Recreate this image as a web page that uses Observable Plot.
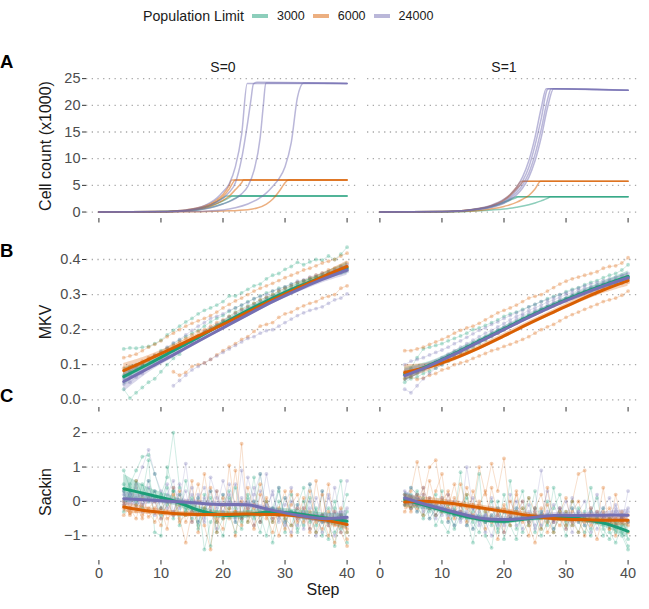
<!DOCTYPE html>
<html><head><meta charset="utf-8">
<script src="https://cdn.jsdelivr.net/npm/d3@7"></script>
<script src="https://cdn.jsdelivr.net/npm/@observablehq/plot@0.6"></script>
<style>
body{margin:0;background:#fff;}
#chart{position:relative;width:649px;height:609px;overflow:hidden;font-family:'Liberation Sans',Arial,Helvetica,sans-serif;color:#1a1a1a;}
.abs{position:absolute;white-space:nowrap;}
</style>
</head><body><div id="chart"></div>
<script>
// ---------- categories / ticks ----------
const LIMITS = [3000, 6000, 24000];
const COLORS = ["#1b9e77", "#d95f02", "#7570b3"];
const S_VALUES = [0, 1];
const X_TICKS = [0, 10, 20, 30, 40];
const Y_TICKS_A = [0, 5, 10, 15, 20, 25];
const Y_TICKS_B = [0, 0.1, 0.2, 0.3, 0.4];
const Y_TICKS_C = [-1, 0, 1, 2];
const SERIES_START = 4;
const SMOOTH_STEPS = [4, 8, 12, 16, 20, 24, 28, 32, 36, 40];

// ---------- Panel A: cell count (x1000), runs as [step, count] ----------
const A_S0_3000 = [
 [[0,0],[5,0.02],[10,0.1],[14,0.3],[16,0.65],[18,1.35],[19,1.95],[20,2.65],[20.6,3.0],[30,3.02],[40,3.0]],
 [[0,0],[10,0.08],[14,0.25],[16,0.55],[18,1.15],[20,2.1],[21,2.7],[21.5,3.0],[40,3.0]],
 [[0,0],[10,0.05],[14,0.18],[16,0.4],[18,0.85],[20,1.55],[21,2.0],[22,2.6],[22.8,3.0],[40,3.0]]
];
const A_S0_6000 = [
 [[0,0],[10,0.1],[14,0.4],[16,0.8],[18,1.6],[19,2.3],[20,3.3],[21,5.0],[21.4,6.0],[40,6.0]],
 [[0,0],[10,0.08],[14,0.3],[16,0.7],[18,1.4],[19,2.0],[20,2.9],[21,4.3],[22,6.0],[40,6.02]],
 [[0,0],[10,0.06],[14,0.25],[16,0.5],[18,1.1],[20,2.2],[21,3.0],[22,4.2],[23,5.5],[23.3,6.0],[40,6.0]],
 [[0,0],[15,0.05],[20,0.2],[24,0.45],[25.5,0.75],[27,1.5],[28,2.4],[29,3.8],[29.7,5.0],[30,5.5],[30.6,6.0],[40,6.0]]
];
const A_S0_24000 = [
 [[0,0],[10,0.1],[14,0.4],[16,0.8],[17,1.2],[18,1.8],[19,2.6],[20,3.8],[21,5.3],[22,8.5],[23,14.5],[23.9,24.1],[40,24.1]],
 [[0,0],[10,0.08],[14,0.3],[16,0.6],[18,1.3],[20,2.6],[21,3.7],[22,5.5],[23,10],[24,17],[24.5,21],[24.9,24.0],[25.5,24.3],[40,24.1]],
 [[0,0],[10,0.05],[15,0.3],[18,0.8],[20,1.5],[22,2.5],[23,3.4],[24,4.8],[25,7.8],[26,14],[26.5,20],[26.9,24.2],[40,24.1]],
 [[0,0],[15,0.1],[20,0.4],[22,0.8],[24,1.5],[26,2.7],[27,3.6],[28,4.8],[29,6.2],[30,8.5],[31,13],[32,21.5],[33,24.2],[40,24.1]]
];
const A_S1_3000 = [
 [[0,0],[10,0.08],[14,0.3],[16,0.6],[18,1.1],[20,1.9],[21,2.4],[22,2.88],[40,2.88]],
 [[0,0],[10,0.07],[14,0.28],[16,0.55],[18,1.0],[20,1.75],[21,2.25],[22,2.7],[22.3,2.88],[40,2.88]],
 [[0,0],[10,0.04],[14,0.12],[16,0.22],[18,0.38],[20,0.58],[22,0.9],[24,1.35],[25,1.7],[26,2.1],[27,2.55],[27.5,2.88],[40,2.88]]
];
const A_S1_6000 = [
 [[0,0],[10,0.1],[14,0.35],[16,0.65],[18,1.25],[20,2.35],[21,3.3],[22,4.6],[22.8,5.75],[40,5.75]],
 [[0,0],[10,0.09],[14,0.32],[16,0.6],[18,1.15],[20,2.2],[21,3.1],[22,4.3],[23,5.6],[23.1,5.75],[40,5.75]],
 [[0,0],[10,0.05],[14,0.15],[16,0.3],[18,0.6],[20,1.05],[20.5,1.2],[22,1.8],[23,2.4],[24,3.1],[25,4.3],[25.9,5.75],[40,5.75]]
];
const A_S1_24000 = [
 [[0,0],[10,0.1],[14,0.35],[16,0.7],[18,1.3],[20,2.4],[21,3.3],[22,4.6],[23,6.6],[24,9.6],[25,14],[26,19.5],[26.8,23.1],[30,23.1],[35,23.0],[40,22.8]],
 [[0,0],[10,0.09],[14,0.32],[16,0.62],[18,1.15],[20,2.1],[21,2.9],[22,4.1],[23,5.8],[24,8.4],[25,12.5],[26,17.5],[27,23.0],[27.2,23.1],[33,23.0],[40,22.8]],
 [[0,0],[10,0.08],[14,0.28],[16,0.55],[18,1.0],[20,1.85],[21,2.6],[22,3.6],[23,5.1],[24,7.3],[25,10.8],[26,15.5],[27,21],[27.6,23.1],[34,23.0],[40,22.8]],
 [[0,0],[10,0.07],[14,0.25],[16,0.5],[18,0.9],[20,1.65],[21,2.3],[22,3.2],[23,4.5],[24,6.5],[25,9.6],[26,14],[27,19.5],[28,23.1],[36,22.9],[40,22.8]]
];

// ---------- Panel B: MKV replicate runs (steps 4..40, null = not yet defined) ----------
const B_S0_3000 = [
 [0.145,0.148,0.147,0.15,0.152,0.16,0.17,0.185,0.198,0.21,0.222,0.232,0.245,0.255,0.262,0.27,0.28,0.296,0.296,0.305,0.315,0.325,0.33,0.345,0.355,0.36,0.372,0.38,0.392,0.385,0.393,0.4,0.398,0.41,0.4,0.415,0.435],
 [0.03,0.005,0.02,0.035,0.05,0.06,0.08,0.1,0.118,0.13,0.15,0.162,0.175,0.19,0.2,0.212,0.225,0.238,0.25,0.26,0.268,0.275,0.285,0.292,0.3,0.31,0.318,0.325,0.33,0.338,0.345,0.35,0.355,0.36,0.362,0.37,0.375],
 [0.07,0.08,0.095,0.1,0.115,0.125,0.14,0.148,0.16,0.17,0.18,0.19,0.198,0.21,0.222,0.232,0.24,0.252,0.262,0.27,0.28,0.288,0.296,0.305,0.31,0.318,0.322,0.33,0.335,0.34,0.345,0.35,0.352,0.358,0.36,0.365,0.37]
];
const B_S0_6000 = [
 [0.12,0.125,0.13,0.14,0.15,0.158,0.168,0.18,0.19,0.2,0.21,0.218,0.225,0.232,0.24,0.25,0.262,0.272,0.282,0.29,0.3,0.31,0.318,0.325,0.332,0.34,0.348,0.355,0.362,0.37,0.375,0.382,0.39,0.395,0.4,0.41,0.418],
 [null,null,null,null,null,null,null,null,0.08,0.07,0.078,0.095,0.1,0.105,0.115,0.128,0.14,0.15,0.16,0.172,0.18,0.195,0.21,0.215,0.22,0.235,0.245,0.25,0.26,0.268,0.275,0.28,0.29,0.295,0.3,0.318,0.325],
 [0.09,0.095,0.1,0.11,0.12,0.128,0.135,0.145,0.155,0.165,0.175,0.185,0.195,0.2,0.21,0.22,0.228,0.238,0.248,0.258,0.265,0.275,0.285,0.292,0.3,0.31,0.318,0.325,0.335,0.34,0.348,0.355,0.362,0.37,0.375,0.382,0.39]
];
const B_S0_24000 = [
 [0.06,0.07,0.085,0.1,0.112,0.125,0.135,0.15,0.162,0.172,0.185,0.198,0.21,0.22,0.232,0.238,0.245,0.255,0.262,0.27,0.278,0.288,0.295,0.3,0.31,0.315,0.322,0.33,0.338,0.342,0.35,0.355,0.36,0.365,0.37,0.378,0.385],
 [null,null,null,null,null,null,null,null,0.04,0.055,0.07,0.085,0.095,0.105,0.115,0.125,0.135,0.145,0.155,0.165,0.175,0.18,0.19,0.197,0.2,0.21,0.22,0.23,0.24,0.248,0.255,0.26,0.265,0.275,0.285,0.29,0.302],
 [0.045,0.05,0.065,0.075,0.09,0.1,0.115,0.125,0.14,0.15,0.16,0.172,0.182,0.195,0.205,0.215,0.225,0.235,0.245,0.255,0.262,0.27,0.28,0.288,0.295,0.302,0.31,0.318,0.325,0.33,0.338,0.342,0.348,0.352,0.358,0.362,0.366]
];
const B_S1_3000 = [
 [0.075,0.09,0.12,0.145,0.15,0.155,0.16,0.168,0.175,0.182,0.19,0.2,0.205,0.212,0.22,0.228,0.238,0.245,0.25,0.258,0.265,0.272,0.28,0.288,0.295,0.3,0.308,0.315,0.32,0.328,0.335,0.34,0.348,0.355,0.36,0.37,0.385],
 [0.06,0.065,0.075,0.085,0.095,0.105,0.115,0.125,0.135,0.142,0.152,0.162,0.17,0.178,0.188,0.198,0.205,0.215,0.222,0.232,0.24,0.248,0.258,0.265,0.272,0.28,0.288,0.295,0.302,0.308,0.315,0.322,0.328,0.335,0.34,0.345,0.35],
 [0.05,0.06,0.065,0.075,0.082,0.09,0.1,0.11,0.12,0.13,0.14,0.15,0.16,0.17,0.18,0.19,0.2,0.21,0.22,0.23,0.24,0.25,0.258,0.265,0.272,0.28,0.288,0.295,0.3,0.308,0.315,0.32,0.325,0.33,0.335,0.34,0.345]
];
const B_S1_6000 = [
 [0.14,0.14,0.145,0.15,0.158,0.165,0.172,0.18,0.19,0.198,0.205,0.21,0.218,0.228,0.238,0.248,0.255,0.262,0.27,0.28,0.29,0.295,0.3,0.31,0.32,0.33,0.338,0.345,0.35,0.355,0.36,0.365,0.375,0.38,0.382,0.39,0.405],
 [0.06,0.065,0.058,0.062,0.07,0.075,0.085,0.09,0.1,0.105,0.11,0.118,0.125,0.132,0.14,0.145,0.152,0.158,0.165,0.172,0.18,0.19,0.2,0.208,0.215,0.225,0.235,0.243,0.25,0.258,0.265,0.272,0.28,0.285,0.29,0.298,0.31],
 [0.08,0.075,0.08,0.088,0.095,0.1,0.108,0.118,0.128,0.135,0.145,0.155,0.165,0.172,0.182,0.19,0.2,0.21,0.218,0.228,0.235,0.245,0.252,0.26,0.268,0.275,0.282,0.29,0.298,0.305,0.31,0.315,0.32,0.325,0.33,0.332,0.335]
];
const B_S1_24000 = [
 [0.03,0.02,0.04,0.06,0.075,0.09,0.1,0.112,0.125,0.138,0.15,0.16,0.17,0.18,0.192,0.2,0.21,0.22,0.23,0.24,0.248,0.255,0.262,0.27,0.278,0.285,0.29,0.298,0.305,0.31,0.318,0.322,0.328,0.332,0.336,0.34,0.345],
 [0.1,0.11,0.115,0.12,0.128,0.135,0.142,0.15,0.16,0.168,0.178,0.188,0.198,0.205,0.215,0.222,0.232,0.24,0.248,0.255,0.265,0.272,0.28,0.285,0.292,0.3,0.305,0.312,0.318,0.325,0.33,0.335,0.34,0.345,0.35,0.355,0.36],
 [0.07,0.075,0.085,0.092,0.1,0.11,0.12,0.13,0.14,0.15,0.16,0.17,0.18,0.19,0.198,0.208,0.218,0.228,0.238,0.245,0.255,0.262,0.27,0.278,0.285,0.292,0.3,0.305,0.312,0.318,0.322,0.328,0.333,0.338,0.342,0.346,0.35]
];
// smooth fits (at SMOOTH_STEPS) and half-widths of their bands
const B_S0_FIT_3000 = [0.066,0.102,0.14,0.178,0.217,0.255,0.29,0.322,0.35,0.376];
const B_S0_FIT_6000 = [0.083,0.115,0.148,0.182,0.215,0.25,0.285,0.318,0.35,0.38];
const B_S0_FIT_24000 = [0.052,0.09,0.128,0.167,0.205,0.243,0.28,0.313,0.343,0.37];
const B_S1_FIT_3000 = [0.072,0.099,0.132,0.167,0.202,0.237,0.27,0.3,0.327,0.352];
const B_S1_FIT_6000 = [0.078,0.094,0.118,0.148,0.182,0.217,0.25,0.283,0.313,0.34];
const B_S1_FIT_24000 = [0.069,0.097,0.13,0.165,0.2,0.235,0.268,0.297,0.324,0.348];
const B_S0_SE_3000 = [0.025,0.012,0.008,0.007,0.007,0.007,0.007,0.008,0.01,0.017];
const B_S0_SE_6000 = [0.02,0.011,0.008,0.007,0.007,0.007,0.007,0.008,0.01,0.016];
const B_S0_SE_24000 = [0.03,0.013,0.009,0.007,0.007,0.007,0.007,0.008,0.01,0.015];
const B_S1_SE_3000 = [0.02,0.01,0.008,0.007,0.007,0.007,0.007,0.008,0.01,0.015];
const B_S1_SE_6000 = [0.022,0.011,0.008,0.007,0.007,0.007,0.007,0.008,0.01,0.016];
const B_S1_SE_24000 = [0.018,0.01,0.008,0.007,0.007,0.007,0.007,0.008,0.01,0.014];

// ---------- Panel C: Sackin replicate runs (steps 4..40) ----------
const C_S0_3000 = [
 [0.3,0.5,0.9,1.3,1.35,0.8,0.2,0.7,2.0,0.4,-0.3,0.1,-0.6,-0.2,0.3,-0.9,-0.5,0.1,-0.2,-0.6,0.2,-0.4,-0.9,0.0,-0.3,0.3,-0.5,-0.7,-0.1,0.4,-0.6,-0.2,-1.0,-0.5,0.0,-0.8,-0.3],
 [0.5,0.1,0.6,0.2,1.2,-0.9,-1.0,1.0,0.3,-0.4,0.6,-0.2,-0.7,0.2,-1.3,-0.4,-0.1,0.3,-0.6,-0.8,0.1,-0.5,0.8,-0.3,-0.6,0.0,-0.9,0.2,-0.4,-0.7,0.5,-0.3,-0.6,-1.1,-0.2,0.6,-0.9],
 [-0.3,0.3,-0.1,0.5,0.0,0.3,-0.2,0.4,-0.5,0.2,-0.4,0.0,-0.8,-0.3,0.1,-0.6,-1.0,-0.2,0.4,-0.5,-0.3,0.7,-0.6,-0.2,-1.2,-0.4,0.1,-0.3,-0.8,0.0,-0.5,-0.9,0.3,-0.6,-1.3,-0.4,0.2],
 [0.9,0.4,0.0,-0.2,0.6,0.1,-0.4,-0.1,0.3,-0.7,-0.2,-0.5,0.1,-1.4,-0.6,-0.3,0.2,-0.4,-0.9,-0.1,-0.6,0.0,-0.4,-1.0,-0.2,0.4,-0.6,-0.3,-0.9,-0.5,0.1,-0.7,-0.4,-0.2,-0.9,-0.6,-1.2]
];
const C_S0_6000 = [
 [-0.1,-0.3,0.6,-0.4,-0.2,0.0,-0.5,-0.3,0.2,-0.6,-0.4,0.6,-0.9,-0.2,0.4,-0.5,-0.8,1.05,-0.3,1.68,-0.6,-0.1,0.5,-0.4,-0.9,-0.2,0.3,-0.7,-0.5,0.1,-0.8,0.6,-0.4,-1.0,-0.3,-0.6,-1.1],
 [-0.4,-0.2,-0.5,0.1,-0.3,-0.6,-0.2,-0.8,0.4,-0.5,-1.2,-0.3,0.0,-0.7,-1.4,0.3,-0.5,-0.2,-1.0,0.0,-0.4,-0.8,0.2,-0.5,-0.3,-1.0,-0.4,0.3,-0.6,-0.2,-0.9,-0.5,0.2,-0.7,-1.2,-0.4,-0.8],
 [0.0,-0.4,-0.1,-0.5,0.2,-0.3,-0.7,0.0,-0.4,0.3,-0.6,-0.2,0.5,-0.4,-0.1,-0.9,0.1,-0.5,-0.3,-0.7,0.4,-0.2,-0.6,0.0,-0.5,-0.4,-0.8,-0.1,0.2,-0.6,-0.3,-0.9,-0.5,0.5,-0.7,-0.2,-0.9],
 [-0.2,-0.35,-0.3,-0.1,-0.45,-0.2,0.1,-0.5,-0.35,-0.1,0.0,-0.6,-0.4,0.8,-0.3,-0.6,-0.1,-0.4,0.9,-0.5,-0.2,-0.7,-0.4,0.1,-0.6,-0.3,-0.5,-1.0,-0.2,-0.4,0.3,-0.6,-0.8,-0.3,-0.5,-0.9,-1.3]
];
const C_S0_24000 = [
 [0.2,0.0,0.5,1.0,1.5,0.8,0.3,-0.2,0.4,0.0,1.1,-0.3,0.2,-0.5,0.3,-0.2,0.6,0.0,-0.6,0.9,-0.4,0.2,0.8,-0.3,0.3,-0.5,-0.1,0.4,-0.7,-0.2,0.5,-0.4,-0.9,0.2,-0.6,-0.3,0.6],
 [-0.1,0.3,-0.2,0.2,0.6,-0.4,0.1,0.5,-0.3,0.2,-0.1,0.4,-0.6,0.1,-0.2,0.3,-0.4,0.5,-0.1,-0.5,0.7,0.0,-0.3,0.8,-0.2,-0.6,0.1,-0.4,-0.2,-0.8,0.0,-0.5,0.3,-0.7,-1.0,-0.4,-0.2],
 [0.3,-0.2,0.1,-0.3,0.4,0.0,-0.5,0.2,0.6,-0.2,0.3,-0.6,0.1,0.4,-0.3,-0.8,0.2,-0.1,0.5,-0.4,0.0,-0.7,0.3,-0.2,-0.5,0.4,-0.6,-0.9,-0.1,-0.4,-0.2,-1.0,-0.6,0.1,-0.3,-0.9,-0.5],
 [0.0,0.2,0.4,-0.1,0.1,0.3,-0.2,0.0,-0.4,0.5,-0.1,0.2,-0.3,-0.6,0.7,0.1,-0.3,0.2,-0.5,0.1,-0.2,0.4,-0.6,-0.1,0.2,-0.4,-0.7,0.0,-0.5,-0.3,-0.8,0.1,-0.4,-0.6,0.4,-0.5,-0.7]
];
const C_S1_3000 = [
 [0.2,0.0,-0.3,0.1,-0.5,-0.2,0.3,-0.6,-0.4,0.85,-0.7,-0.3,0.8,-1.0,-1.35,-0.2,-0.6,0.6,-0.8,-0.4,0.1,-0.9,-0.3,-0.7,0.4,-0.5,-1.0,-0.2,-0.6,-0.9,-0.3,0.1,-0.8,-1.1,-0.6,-0.9,-1.3],
 [-0.1,0.4,0.2,-0.4,0.0,-0.7,-0.3,-0.1,-0.8,-0.4,0.2,-0.6,-0.9,-0.3,-0.7,0.0,-1.1,-0.5,-0.2,0.3,-0.7,-0.4,-1.0,-0.6,-0.2,0.2,-0.7,-0.5,-0.9,-0.3,0.4,-0.6,-1.0,-0.5,-0.8,-0.4,-1.1],
 [0.1,-0.2,0.3,0.0,-0.3,0.2,-0.6,-0.9,-0.2,-0.5,0.1,-0.8,-0.4,-0.6,0.0,-0.9,-0.3,-0.7,-1.1,-0.2,-0.5,0.3,-0.8,-0.4,-0.9,-0.3,-0.6,0.0,-0.4,-0.7,-1.0,-0.5,-0.2,-0.9,-1.2,-0.7,-0.6],
 [0.0,0.2,-0.1,-0.5,-0.2,-0.4,0.0,-0.3,-0.7,-0.1,-0.5,-1.2,-0.2,-0.6,-0.4,-0.8,0.2,-0.5,-0.3,-0.9,-0.6,-0.2,-0.4,0.0,-0.8,-0.5,-0.3,-0.7,-0.2,-0.5,-0.8,-0.4,-0.7,-0.5,-0.9,-1.0,-1.4]
];
const C_S1_6000 = [
 [-0.1,0.3,1.15,0.2,1.0,1.2,0.1,-0.2,0.5,-0.3,0.4,-0.1,1.0,0.2,1.1,0.3,1.25,-0.4,0.2,-0.6,0.1,-0.3,-0.8,0.4,-0.5,-0.2,-0.7,0.0,0.8,0.9,-0.4,-0.6,-0.3,-0.8,0.2,-0.6,-0.9],
 [0.2,-0.3,0.0,0.4,-0.2,0.3,0.8,-0.5,0.1,-0.1,-0.6,0.3,-0.2,-0.8,0.4,-0.4,-0.1,-0.7,0.3,-0.5,-1.0,-0.2,0.2,-0.6,-0.9,-0.3,0.1,-0.7,-0.5,-1.0,-0.2,-0.6,0.4,-0.8,-0.5,-0.3,-0.7],
 [-0.3,0.1,-0.2,-0.4,0.6,-0.1,-0.3,0.2,-0.5,0.5,-0.2,-0.4,-0.1,0.3,-0.6,-0.3,-0.9,0.0,-0.4,-0.2,-0.7,-1.2,-0.5,-0.1,-0.6,-0.4,-0.8,-0.3,0.0,-0.6,-0.5,-1.1,-0.4,-0.2,-0.7,-0.5,-0.4],
 [0.0,-0.2,0.2,-0.1,0.1,-0.4,0.0,0.3,-0.3,-0.1,0.2,-0.5,0.0,-0.3,-0.5,-1.1,-0.2,-0.5,-0.3,0.0,-0.6,-0.4,-0.2,-0.9,-0.5,-0.7,-0.3,-0.6,-0.9,-0.4,-0.7,-0.3,-0.6,-0.5,-1.0,-0.4,-0.6]
];
const C_S1_24000 = [
 [0.3,0.1,-0.1,0.4,-0.2,0.0,-0.4,0.2,-0.3,-0.5,1.0,-0.2,-0.6,-0.4,0.1,-0.7,-0.3,-0.5,0.0,-0.8,-0.4,-0.2,0.9,-0.3,-0.6,-0.2,-0.5,0.1,-0.4,-0.7,-0.3,0.2,-0.5,-0.4,-0.1,-0.6,0.3],
 [0.1,0.4,0.2,-0.2,0.1,-0.4,-0.1,-0.6,0.0,-0.3,-0.7,-0.2,-0.5,-0.9,-0.4,-0.2,-0.6,0.2,-0.7,-0.5,-0.3,-0.8,-0.4,0.3,-0.6,-0.2,-0.4,-0.9,-0.3,0.0,-0.6,-0.5,-0.2,0.1,-0.7,-0.4,-0.3],
 [-0.1,0.0,-0.3,0.2,-0.5,-0.2,0.1,-0.4,-0.7,-0.1,-0.4,-0.8,-0.3,-0.6,-1.0,-0.4,-0.7,-0.3,-0.5,0.0,-0.6,-0.3,-0.7,-0.4,-0.1,-0.5,-0.8,-0.2,-0.6,-0.4,-0.9,-0.3,-0.5,-0.7,-0.2,-0.5,-0.6],
 [0.2,-0.2,0.1,-0.3,-0.1,-0.5,-0.2,0.0,-0.4,-0.6,-0.3,0.1,-0.7,-0.4,-0.2,-0.6,-0.9,-0.4,-0.2,-0.5,-0.1,-0.7,-0.3,-0.5,-0.8,-0.4,0.0,-0.6,-0.3,-0.5,-0.2,-0.8,-0.4,-0.6,-0.3,-0.5,-0.2]
];
const C_S0_FIT_3000 = [0.37,0.2,0.02,-0.25,-0.4,-0.38,-0.3,-0.36,-0.47,-0.58];
const C_S0_FIT_6000 = [-0.16,-0.28,-0.35,-0.38,-0.38,-0.37,-0.38,-0.42,-0.53,-0.67];
const C_S0_FIT_24000 = [0.08,0.04,0.0,-0.05,-0.09,-0.1,-0.26,-0.4,-0.5,-0.46];
const C_S1_FIT_3000 = [0.05,-0.15,-0.36,-0.52,-0.58,-0.5,-0.46,-0.5,-0.63,-0.87];
const C_S1_FIT_6000 = [-0.02,0.0,-0.07,-0.18,-0.29,-0.41,-0.5,-0.53,-0.55,-0.55];
const C_S1_FIT_24000 = [0.1,-0.12,-0.31,-0.48,-0.53,-0.48,-0.41,-0.41,-0.4,-0.4];
const C_S0_SE_3000 = [0.42,0.2,0.13,0.11,0.11,0.11,0.11,0.12,0.14,0.22];
const C_S0_SE_6000 = [0.15,0.1,0.08,0.07,0.07,0.07,0.07,0.08,0.1,0.16];
const C_S0_SE_24000 = [0.2,0.12,0.09,0.08,0.08,0.08,0.08,0.09,0.12,0.2];
const C_S1_SE_3000 = [0.22,0.11,0.09,0.08,0.08,0.08,0.08,0.09,0.11,0.2];
const C_S1_SE_6000 = [0.22,0.11,0.09,0.08,0.08,0.08,0.08,0.09,0.11,0.18];
const C_S1_SE_24000 = [0.2,0.1,0.08,0.08,0.08,0.08,0.08,0.08,0.1,0.17];

// ---------- build tidy tables ----------
function growthRows(S, limit, runs) {
  return runs.flatMap((run, i) => run.map(([step, count]) => ({S, limit, run: `${S}-${limit}-${i}`, step, count})));
}
function seriesRows(S, limit, runs) {
  return runs.flatMap((run, i) => run.map((v, j) => ({S, limit, run: `${S}-${limit}-${i}`, step: SERIES_START + j, value: v})).filter(d => d.value != null));
}
function fitRows(S, limit, fit, se) {
  return fit.map((f, j) => ({S, limit, step: SMOOTH_STEPS[j], fit: f, lo: f - se[j], hi: f + se[j]}));
}
const dataA = [
  ...growthRows(0, 3000, A_S0_3000), ...growthRows(0, 6000, A_S0_6000), ...growthRows(0, 24000, A_S0_24000),
  ...growthRows(1, 3000, A_S1_3000), ...growthRows(1, 6000, A_S1_6000), ...growthRows(1, 24000, A_S1_24000)
];
const dataB = [
  ...seriesRows(0, 3000, B_S0_3000), ...seriesRows(0, 6000, B_S0_6000), ...seriesRows(0, 24000, B_S0_24000),
  ...seriesRows(1, 3000, B_S1_3000), ...seriesRows(1, 6000, B_S1_6000), ...seriesRows(1, 24000, B_S1_24000)
];
const fitB = [
  ...fitRows(0, 3000, B_S0_FIT_3000, B_S0_SE_3000), ...fitRows(0, 6000, B_S0_FIT_6000, B_S0_SE_6000), ...fitRows(0, 24000, B_S0_FIT_24000, B_S0_SE_24000),
  ...fitRows(1, 3000, B_S1_FIT_3000, B_S1_SE_3000), ...fitRows(1, 6000, B_S1_FIT_6000, B_S1_SE_6000), ...fitRows(1, 24000, B_S1_FIT_24000, B_S1_SE_24000)
];
const dataC = [
  ...seriesRows(0, 3000, C_S0_3000), ...seriesRows(0, 6000, C_S0_6000), ...seriesRows(0, 24000, C_S0_24000),
  ...seriesRows(1, 3000, C_S1_3000), ...seriesRows(1, 6000, C_S1_6000), ...seriesRows(1, 24000, C_S1_24000)
];
const fitC = [
  ...fitRows(0, 3000, C_S0_FIT_3000, C_S0_SE_3000), ...fitRows(0, 6000, C_S0_FIT_6000, C_S0_SE_6000), ...fitRows(0, 24000, C_S0_FIT_24000, C_S0_SE_24000),
  ...fitRows(1, 3000, C_S1_FIT_3000, C_S1_SE_3000), ...fitRows(1, 6000, C_S1_FIT_6000, C_S1_SE_6000), ...fitRows(1, 24000, C_S1_FIT_24000, C_S1_SE_24000)
];

// ---------- drawing ----------
const FONT = "'Liberation Sans', Arial, Helvetica, sans-serif";
const TICK_FONT = 14.5;
const chart = document.getElementById("chart");

function basePlot({top, height, marginTop, marginBottom, yDomain, yTicks, yFormat, xLabels, marks}) {
  const svg = Plot.plot({
    width: 649, height, marginLeft: 85, marginRight: 9, marginTop, marginBottom,
    style: {fontFamily: FONT, fontSize: TICK_FONT + "px", background: "transparent", overflow: "visible"},
    x: {domain: [-2, 42], axis: null},
    y: {domain: yDomain, axis: null},
    fx: {domain: S_VALUES, paddingInner: 0.03, paddingOuter: 0, axis: null},
    color: {type: "ordinal", domain: LIMITS, range: COLORS},
    marks: [
      Plot.gridY(yTicks, {stroke: "#a8a8a8", strokeOpacity: 1, strokeWidth: 1.3, strokeDasharray: "1.3,4.4"}),
      Plot.axisY(yTicks, {tickSize: 4, tickPadding: 2, tickFormat: yFormat, label: null, stroke: "#333", fill: "#4d4d4d", facetAnchor: "left", fontSize: TICK_FONT}),
      Plot.axisX(X_TICKS, {tickSize: 4.5, tickPadding: 3, tickFormat: xLabels ? (d => String(d)) : (() => ""), label: null, stroke: "#333", fill: "#4d4d4d", facetAnchor: "bottom", fontSize: TICK_FONT}),
      ...marks
    ]
  });
  svg.style.position = "absolute";
  svg.style.left = "0px";
  svg.style.top = top + "px";
  chart.appendChild(svg);
}

// Row A
basePlot({
  top: 50, height: 176, marginTop: 26, marginBottom: 8,
  yDomain: [-1.21, 25.4], yTicks: Y_TICKS_A, yFormat: d => String(d), xLabels: false,
  marks: [
    Plot.line(dataA, {fx: "S", x: "step", y: "count", z: "run", stroke: "limit", strokeOpacity: 0.5, strokeWidth: 1.5, curve: "monotone-x"}),
    Plot.text(S_VALUES, {fx: d => d, text: d => `S=${d}`, frameAnchor: "top", lineAnchor: "middle", dy: -9, fill: "#1a1a1a", fontSize: 14})
  ]
});

function seriesMarks(rows, fits) {
  return [
    Plot.line(rows, {fx: "S", x: "step", y: "value", z: "run", stroke: "limit", strokeOpacity: 0.2, strokeWidth: 1}),
    Plot.dot(rows, {fx: "S", x: "step", y: "value", fill: "limit", fillOpacity: 0.3, r: 1.9}),
    Plot.areaY(fits, {fx: "S", x: "step", y1: "lo", y2: "hi", z: "limit", fill: "limit", fillOpacity: 0.28, curve: "catmull-rom"}),
    Plot.line(fits, {fx: "S", x: "step", y: "fit", z: "limit", stroke: "limit", strokeWidth: 3, curve: "catmull-rom"})
  ];
}

// Row B
basePlot({
  top: 228, height: 187, marginTop: 11, marginBottom: 8,
  yDomain: [-0.022, 0.457], yTicks: Y_TICKS_B, yFormat: d3.format(".1f"), xLabels: false,
  marks: seriesMarks(dataB, fitB)
});

// Row C
basePlot({
  top: 415, height: 167, marginTop: 11, marginBottom: 22,
  yDomain: [-1.72, 2.18], yTicks: Y_TICKS_C, yFormat: d => d < 0 ? "\u2212" + Math.abs(d) : String(d), xLabels: true,
  marks: seriesMarks(dataC, fitC)
});

// ---------- text decorations ----------
function addText(text, css) {
  const el = document.createElement("div");
  el.className = "abs";
  el.textContent = text;
  Object.assign(el.style, css);
  chart.appendChild(el);
  return el;
}
const rot = {transform: "translate(-50%,-50%) rotate(-90deg)", fontSize: "16px", color: "#1a1a1a"};
addText("Cell count (x1000)", {left: "46px", top: "146px", ...rot});
addText("MKV", {left: "46px", top: "322px", ...rot});
addText("Sackin", {left: "46px", top: "492px", ...rot});
addText("Step", {left: "323px", top: "590px", transform: "translate(-50%,-50%)", fontSize: "16px", color: "#1a1a1a"});
const letter = {fontSize: "18.5px", fontWeight: "bold", color: "#000", transform: "translateY(-50%)"};
addText("A", {left: "0px", top: "62px", ...letter});
addText("B", {left: "0px", top: "251px", ...letter});
addText("C", {left: "0px", top: "396px", ...letter});

// legend
const legend = document.createElement("div");
legend.className = "abs";
Object.assign(legend.style, {left: "143px", top: "7px", height: "18px", display: "flex", alignItems: "center", color: "#1a1a1a"});
const title = document.createElement("span");
title.textContent = "Population Limit";
Object.assign(title.style, {fontSize: "14.2px", marginRight: "8px"});
legend.appendChild(title);
LIMITS.forEach((lim, i) => {
  const sw = document.createElement("span");
  Object.assign(sw.style, {display: "inline-block", width: "16px", height: "4px", background: COLORS[i], opacity: "0.5", marginRight: "9px"});
  legend.appendChild(sw);
  const lab = document.createElement("span");
  lab.textContent = String(lim);
  Object.assign(lab.style, {fontSize: "12.5px", marginRight: "8px"});
  legend.appendChild(lab);
});
chart.appendChild(legend);
</script>
</body></html>
